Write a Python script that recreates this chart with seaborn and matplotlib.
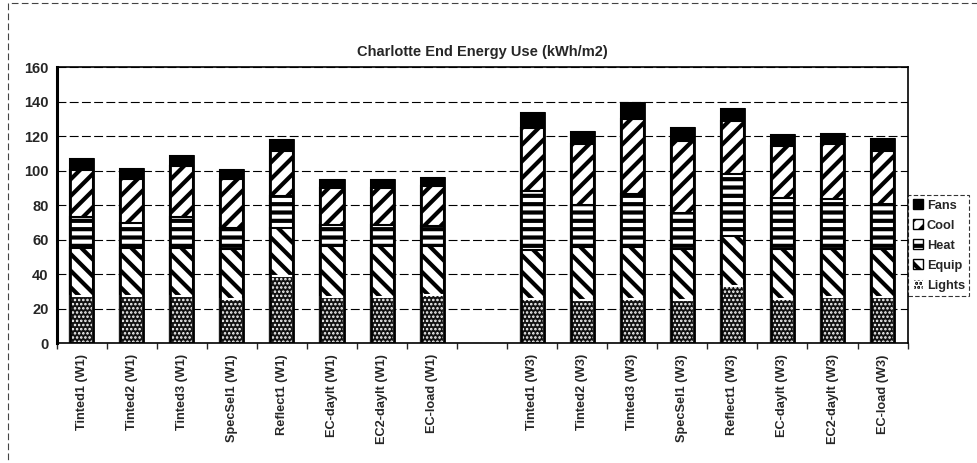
import seaborn as sns
import pandas as pd
import numpy as np
import matplotlib as mpl
import matplotlib.pyplot as plt
from matplotlib.patches import Patch, Rectangle

sns.set_style('white')
plt.rcParams['font.family'] = ['Liberation Sans', 'DejaVu Sans']
plt.rcParams['font.weight'] = 'bold'
plt.rcParams['hatch.linewidth'] = 3.0

cases = ['Tinted1 (W1)', 'Tinted2 (W1)', 'Tinted3 (W1)', 'SpecSel1 (W1)', 'Reflect1 (W1)',
         'EC-daylt (W1)', 'EC2-daylt (W1)', 'EC-load (W1)',
         'Tinted1 (W3)', 'Tinted2 (W3)', 'Tinted3 (W3)', 'SpecSel1 (W3)', 'Reflect1 (W3)',
         'EC-daylt (W3)', 'EC2-daylt (W3)', 'EC-load (W3)']
gap = ' '
order = cases[:8] + [gap] + cases[8:]

lights = [27.5, 27.5, 27.5, 25.8, 38.7, 26.7, 26.5, 27.7,
          25.8, 24.8, 25.8, 24.8, 32.9, 25.8, 26.5, 26.7]
equip = [27.7, 27.7, 27.7, 28.8, 28.1, 29.8, 30.0, 28.8,
         27.9, 31.2, 29.8, 29.8, 29.4, 28.8, 28.1, 27.9]
heat = [17.7, 14.2, 17.7, 12.2, 18.6, 12.0, 12.0, 11.6,
        34.6, 24.2, 30.8, 20.6, 35.6, 29.4, 28.9, 26.0]
cool = [27.6, 26.0, 29.6, 28.2, 26.0, 21.7, 21.7, 23.1,
        36.5, 35.0, 43.8, 41.9, 31.1, 30.2, 31.7, 30.8]
fans = [6.0, 5.8, 5.8, 5.6, 6.1, 4.4, 4.4, 4.6,
        8.7, 7.1, 9.0, 7.7, 6.8, 6.2, 6.3, 6.7]

df = pd.DataFrame({'case': cases, 'Lights': lights, 'Equip': equip,
                   'Heat': heat, 'Cool': cool, 'Fans': fans})
layers = ['Lights', 'Equip', 'Heat', 'Cool', 'Fans']
cum = df[layers].cumsum(axis=1)
cum['case'] = df['case']

styles = {
    'Fans': dict(color='black', edgecolor='black', hatch=None, hlw=3.0),
    'Cool': dict(color='white', edgecolor='black', hatch='//', hlw=3.0),
    'Heat': dict(color='white', edgecolor='black', hatch='--', hlw=3.0),
    'Equip': dict(color='white', edgecolor='black', hatch='\\\\', hlw=3.0),
    'Lights': dict(color='#111111', edgecolor='white', hatch='....', hlw=1.2),
}

fig = plt.figure(figsize=(9.78, 4.63), dpi=100)
ax = fig.add_axes([0.058, 0.259, 0.870, 0.596])

# draw cumulative totals from the top layer down so each layer covers the one above
for layer in layers[::-1]:
    st = styles[layer]
    n0 = len(ax.patches)
    with mpl.rc_context({'hatch.linewidth': st['hlw']}):
        sns.barplot(data=cum, x='case', y=layer, order=order, ax=ax, width=0.46,
                    color=st['color'], edgecolor=st['edgecolor'], hatch=st['hatch'],
                    linewidth=1.5, saturation=1, errorbar=None)
    for p in ax.patches[n0:]:
        if hasattr(p, 'set_hatch_linewidth'):
            p.set_hatch_linewidth(st['hlw'])

# black outline round whole bars
sns.barplot(data=cum, x='case', y='Fans', order=order, ax=ax, width=0.46,
            facecolor='none', edgecolor='black', linewidth=2, errorbar=None)

ax.set_ylim(0, 160)
ax.set_xlim(-0.5, len(order) - 0.5)
ax.set_yticks(np.arange(0, 161, 20))
ax.yaxis.grid(True, color='black', linestyle=(0, (8, 3)), linewidth=0.8)
ax.set_axisbelow(True)
for s in ['top', 'right', 'bottom']:
    ax.spines[s].set_linewidth(1.2)
    ax.spines[s].set_color('black')
ax.spines['left'].set_linewidth(2.2)
ax.spines['left'].set_color('black')
ax.tick_params(axis='y', labelsize=10.5, length=0, pad=6)
ax.tick_params(axis='x', which='major', labelsize=9.2, rotation=90, length=0, pad=8)
ax.set_xticks(np.arange(-0.5, len(order), 1), minor=True)
ax.tick_params(axis='x', which='minor', length=4, width=1, direction='out', bottom=True)
ax.set_xlabel('')
ax.set_ylabel('')
ax.set_title('Charlotte End Energy Use (kWh/m2)', fontsize=10.5, fontweight='bold', pad=8)

handles = []
for l in layers[::-1]:
    h = Patch(facecolor=styles[l]['color'], edgecolor='black' if l != 'Lights' else 'white',
              hatch=styles[l]['hatch'], label=l)
    if hasattr(h, 'set_hatch_linewidth'):
        h.set_hatch_linewidth(styles[l]['hlw'])
    handles.append(h)
leg = fig.legend(handles=handles, loc='center left', bbox_to_anchor=(0.922, 0.47),
                 fontsize=9.2, frameon=True, fancybox=False, handlelength=0.8,
                 handleheight=0.8, handletextpad=0.3, labelspacing=0.6, borderpad=0.35)
leg.get_frame().set_edgecolor('black')
leg.get_frame().set_linestyle((0, (4, 2)))
leg.get_frame().set_linewidth(0.8)

# page border fragments
fig.add_artist(Rectangle((0.008, -0.05), 1.1, 1.043, transform=fig.transFigure, fill=False,
                         edgecolor='#444444', linestyle=(0, (6, 3)), linewidth=0.8))

fig.savefig('out.png', dpi=100)
